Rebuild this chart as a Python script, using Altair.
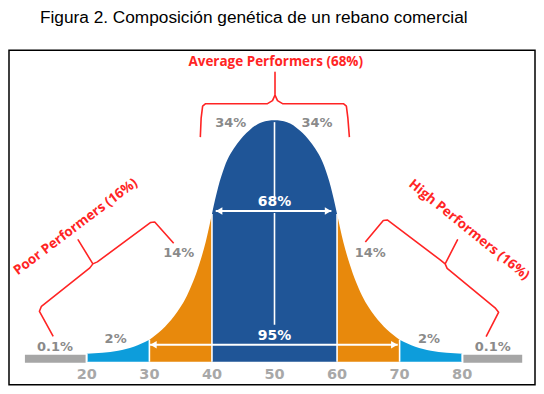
import altair as alt
import pandas as pd

# ---- data ----
# bell curve outline: value -> height above baseline
curve_x = [20, 22.5, 25, 27.5, 30, 32, 34, 36, 38, 39, 40, 41, 42, 44, 46, 48, 50,
           52, 54, 56, 58, 59, 60, 61, 62, 64, 66, 68, 70, 72.5, 75, 77.5, 80]
curve_h = [8, 9, 11, 15, 22, 32, 46, 66, 98, 120, 148, 175, 195, 218, 232, 240, 242,
           240, 232, 218, 195, 175, 148, 120, 98, 66, 46, 32, 22, 15, 11, 9, 8]

segment_names = ["cola_izq", "medio_izq", "centro", "medio_der", "cola_der"]
segment_start = [20, 30, 40, 60, 70]
segment_end = [30, 40, 60, 70, 80]
segment_kind = ["2%", "14%", "68%", "14%", "2%"]
kind_domain = ["2%", "14%", "68%"]
kind_colors = ["#0d9ddb", "#e8890c", "#1f5597"]

gray_start = [10.1, 80.2]
gray_end = [19.8, 89.6]
gray_low = [-1, -1]
gray_high = [7, 7]

boundaries = [20, 30, 40, 60, 70, 80]

center_low = [37, 165]
center_high = [149, 240]

arrow_label = ["68%", "95%"]
arrow_from = [40.6, 30.1]
arrow_to = [59.1, 69.7]
arrow_h = [151, 17]
arrow_text_h = [160, 26]

pct_text = ["34%", "34%", "14%", "14%", "2%", "2%", "0.1%", "0.1%"]
pct_x = [43.0, 56.8, 34.7, 65.3, 24.6, 74.7, 14.9, 84.9]
pct_h = [239, 239, 109, 109, 23, 23, 15, 15]

tick_values = [20, 30, 40, 50, 60, 70, 80]

group_text = ["Average Performers (68%)", "Poor Performers (16%)", "High Performers (16%)"]
group_x = [50.2, 18.2, 81.1]
group_h = [300, 135, 132]
group_angle = [0, 323, 39]

brace_avg_x = [38.14, 38.27, 38.51, 38.99, 48.88, 49.68, 50.08, 50.08, 50.08, 50.48, 51.28, 61.01, 61.49, 61.73, 61.97]
brace_avg_h = [225, 244, 256, 258.5, 258.5, 261.5, 267, 290, 267, 261.5, 258.5, 258.5, 256, 244, 225]
brace_poor_x = [14.62, 12.42, 12.74, 20.48, 20.96, 18.61, 20.96, 21.68, 30.21, 30.85, 33.88]
brace_poor_h = [25.3, 50.5, 55.5, 94, 98, 122, 98, 100, 139.5, 140, 118.7]
brace_high_x = [64.52, 67.39, 68.03, 76.49, 77.28, 79.25, 77.28, 77.60, 85.26, 85.82, 83.83]
brace_high_h = [120, 141.5, 142, 102, 98, 122, 98, 93.5, 54, 49.5, 25]

# ---- tables ----
rows = []
for name, a, b, kind in zip(segment_names, segment_start, segment_end, segment_kind):
    for x, h in zip(curve_x, curve_h):
        if a <= x <= b:
            rows.append({"x": x, "h": h, "seg": name, "kind": kind})
area_df = pd.DataFrame(rows)

curve_lookup = dict(zip(curve_x, curve_h))
sep_df = pd.DataFrame({"x": boundaries, "h0": [0] * len(boundaries),
                       "h": [curve_lookup[b] for b in boundaries]})
gray_df = pd.DataFrame({"x": gray_start, "x2": gray_end, "h0": gray_low, "h": gray_high})
center_df = pd.DataFrame({"x": [50, 50], "h0": center_low, "h": center_high})
arrow_df = pd.DataFrame({"x": arrow_from, "x2": arrow_to, "h": arrow_h})
head_df = pd.DataFrame({
    "x": [v + 0.55 for v in arrow_from] + [v - 0.55 for v in arrow_to],
    "h": arrow_h + arrow_h,
    "shape": ["triangle-left"] * 2 + ["triangle-right"] * 2,
})
arrow_text_df = pd.DataFrame({"t": arrow_label, "x": [50, 50], "h": arrow_text_h})
pct_df = pd.DataFrame({"t": pct_text, "x": pct_x, "h": pct_h})
tick_df = pd.DataFrame({"t": [str(v) for v in tick_values], "x": tick_values, "h": [-13] * len(tick_values)})
group_df = pd.DataFrame({"t": group_text, "x": group_x, "h": group_h, "a": group_angle})

brace_rows = []
for nm, xs, hs in [("avg", brace_avg_x, brace_avg_h), ("poor", brace_poor_x, brace_poor_h),
                   ("high", brace_high_x, brace_high_h)]:
    for i, (x, h) in enumerate(zip(xs, hs)):
        brace_rows.append({"b": nm, "i": i, "x": x, "h": h})
brace_df = pd.DataFrame(brace_rows)

# ---- scales ----
xs = alt.Scale(domain=[7.554, 91.645], nice=False, zero=False)
ys = alt.Scale(domain=[-23, 312], nice=False, zero=False)


def X(f="x"):
    return alt.X(f + ":Q", scale=xs, axis=None)


def Y(f="h"):
    return alt.Y(f + ":Q", scale=ys, axis=None, stack=None)


areas = alt.Chart(area_df).mark_area(interpolate="monotone").encode(
    x=X(), y=Y(), y2=alt.datum(0),
    color=alt.Color("kind:N", scale=alt.Scale(domain=kind_domain, range=kind_colors), legend=None),
    detail="seg:N",
)
gray = alt.Chart(gray_df).mark_rect(color="#a6a6a6").encode(
    x=X(), x2="x2:Q", y=Y(), y2="h0:Q")
seps = alt.Chart(sep_df).mark_rule(color="white", strokeWidth=1.6).encode(
    x=X(), y=Y(), y2="h0:Q")
center = alt.Chart(center_df).mark_rule(color="white", strokeWidth=1.6).encode(
    x=X(), y=Y(), y2="h0:Q")
arrows = alt.Chart(arrow_df).mark_rule(color="white", strokeWidth=2).encode(
    x=X(), x2="x2:Q", y=Y())
heads = alt.Chart(head_df).mark_point(filled=True, color="white", opacity=1, size=55).encode(
    x=X(), y=Y(), shape=alt.Shape("shape:N", scale=None))
arrow_text = alt.Chart(arrow_text_df).mark_text(
    font="DejaVu Sans", fontWeight="bold", fontSize=14, color="white", baseline="middle").encode(
    x=X(), y=Y(), text="t:N")
pct = alt.Chart(pct_df).mark_text(
    font="DejaVu Sans", fontWeight="bold", fontSize=13, color="#8a8a8a", baseline="middle").encode(
    x=X(), y=Y(), text="t:N")
ticks = alt.Chart(tick_df).mark_text(
    font="DejaVu Sans", fontWeight="bold", fontSize=14.5, color="#a8a8a8", baseline="middle").encode(
    x=X(), y=Y(), text="t:N")
braces = alt.Chart(brace_df).mark_line(color="#ff2424", strokeWidth=1.6, strokeJoin="round").encode(
    x=X(), y=Y(), order="i:Q", detail="b:N")
groups = alt.Chart(group_df).mark_text(
    font="Open Sans", fontWeight="bold", fontSize=13.5, color="#ff2424", baseline="middle").encode(
    x=X(), y=Y(), text="t:N", angle=alt.Angle("a:Q", scale=None))

chart = alt.layer(
    areas, gray, seps, center, arrows, heads, arrow_text, pct, ticks, braces, groups
).properties(
    width=527, height=335,
    autosize=alt.AutoSizeParams(type="none"),
    padding={"left": 1, "top": 42, "right": 1, "bottom": 1},
    title=alt.Title(
        "Figura 2. Composición genética de un rebano comercial",
        anchor="start", frame="group", dx=31, offset=10,
        font="Liberation Sans", fontSize=17.3, fontWeight="normal", color="black",
        baseline="alphabetic",
    ),
).configure_view(stroke="black", strokeWidth=1.5)

chart.save("out.html", embed_options={"renderer": "svg", "actions": False})
